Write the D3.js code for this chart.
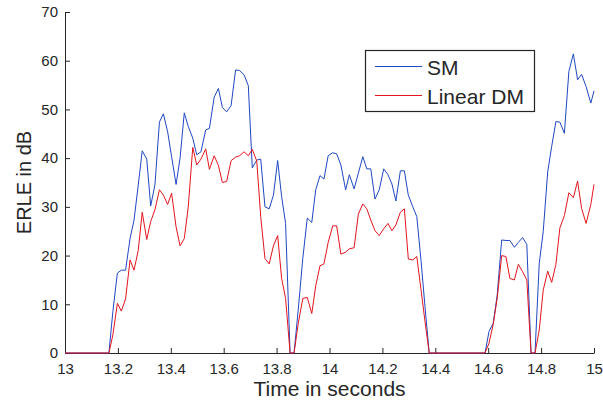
<!DOCTYPE html>
<html>
<head>
<meta charset="utf-8">
<script src="https://cdn.jsdelivr.net/npm/d3@7"></script>
<style>
  html, body { margin: 0; padding: 0; background: #ffffff; }
  svg { display: block; }
  text { font-family: "Liberation Sans", Arial, Helvetica, sans-serif; fill: #262626; }
</style>
</head>
<body>
<script>
const times = [13.000, 13.166, 13.181, 13.198, 13.213, 13.229, 13.246, 13.261, 13.277, 13.292,
  13.309, 13.324, 13.340, 13.357, 13.372, 13.388, 13.403, 13.420, 13.435, 13.451,
  13.466, 13.483, 13.498, 13.514, 13.532, 13.546, 13.564, 13.580, 13.595, 13.611,
  13.628, 13.645, 13.660, 13.677, 13.693, 13.708, 13.725, 13.740, 13.756, 13.772,
  13.788, 13.804, 13.819, 13.834, 13.851, 13.866, 13.882, 13.899, 13.916, 13.933,
  13.948, 13.964, 13.979, 13.995, 14.012, 14.027, 14.043, 14.061, 14.075, 14.093,
  14.109, 14.126, 14.141, 14.156, 14.172, 14.188, 14.205, 14.221, 14.236, 14.251,
  14.268, 14.283, 14.298, 14.315, 14.330, 14.346, 14.361, 14.377, 14.588, 14.603,
  14.619, 14.634, 14.651, 14.667, 14.682, 14.699, 14.714, 14.730, 14.746, 14.762,
  14.777, 14.793, 14.808, 14.825, 14.840, 14.856, 14.871, 14.888, 14.905, 14.922,
  14.938, 14.953, 14.970, 14.988, 15.000];

const smValues = [0, 0, 8.5, 16.4, 17.0, 17.0, 23.5, 27.3, 34.5, 41.5,
  39.8, 30.2, 34.5, 47.4, 49.1, 45.4, 40.3, 34.6, 40.0, 49.3,
  46.5, 44.1, 40.7, 41.3, 45.8, 46.1, 52.5, 54.3, 50.4, 49.5,
  50.8, 58.1, 58.0, 57.1, 54.9, 38.0, 39.6, 39.8, 30.0, 29.6,
  32.4, 39.5, 32.1, 26.6, 0, 0, 9.0, 19.4, 27.7, 26.8,
  33.5, 36.4, 35.7, 40.5, 41.1, 40.9, 38.6, 33.5, 36.6, 33.7,
  36.9, 40.3, 37.8, 37.8, 31.6, 33.5, 37.8, 36.6, 34.7, 31.2,
  37.4, 37.4, 32.4, 30.0, 28.0, 19.0, 9.5, 0, 0, 4.4,
  6.1, 11.9, 23.2, 23.1, 23.1, 21.7, 22.7, 23.7, 22.3, 0,
  0, 18.4, 24.9, 37.2, 42.4, 47.5, 47.4, 45.1, 57.8, 61.4,
  56.1, 57.2, 54.7, 51.3, 53.8];

const dmValues = [0, 0, 3.7, 10.2, 8.6, 11.1, 19.1, 17.0, 21.1, 28.9,
  23.3, 27.0, 29.4, 33.5, 32.4, 30.5, 32.8, 25.9, 22.0, 23.5,
  30.0, 42.2, 38.6, 39.8, 41.9, 37.7, 40.5, 38.5, 35.0, 35.2,
  39.5, 40.2, 40.5, 41.3, 40.5, 41.8, 39.4, 28.0, 19.4, 18.3,
  22.0, 24.1, 15.3, 11.2, 0, 0, 6.1, 11.2, 11.4, 8.1,
  13.8, 17.9, 18.3, 22.7, 26.1, 26.1, 20.3, 20.7, 21.4, 21.6,
  28.5, 30.6, 29.6, 27.3, 25.1, 24.1, 25.5, 26.6, 25.1, 26.3,
  28.9, 29.6, 19.3, 19.1, 19.8, 13.0, 6.5, 0, 0, 2.0,
  5.9, 11.2, 20.0, 19.8, 15.3, 15.0, 18.2, 16.7, 15.0, 0,
  0, 4.7, 12.9, 16.8, 14.5, 18.2, 25.7, 28.2, 32.9, 31.9,
  35.3, 29.7, 26.6, 30.5, 34.6];

const seriesNames = ["SM", "Linear DM"];
const xTicks = [13, 13.2, 13.4, 13.6, 13.8, 14, 14.2, 14.4, 14.6, 14.8, 15];
const yTicks = [0, 10, 20, 30, 40, 50, 60, 70];
const xLabel = "Time in seconds";
const yLabel = "ERLE in dB";

const W = 603, H = 401;
const margin = { left: 65, right: 9, top: 12, bottom: 48 };
const colors = ["#1f47c2", "#e3151d"];

const svg = d3.select("body").append("svg").attr("width", W).attr("height", H);

const x = d3.scaleLinear().domain([13, 15]).range([margin.left, W - margin.right]);
const y = d3.scaleLinear().domain([0, 70]).range([H - margin.bottom, margin.top]);

// axes
const xAxis = svg.append("g")
  .attr("transform", `translate(0,${H - margin.bottom})`)
  .call(d3.axisBottom(x).tickValues(xTicks).tickFormat(d => String(+d.toFixed(1)))
    .tickSizeInner(-5).tickSizeOuter(0).tickPadding(10));
const yAxis = svg.append("g")
  .attr("transform", `translate(${margin.left},0)`)
  .call(d3.axisLeft(y).tickValues(yTicks).tickFormat(d3.format("d"))
    .tickSizeInner(-5).tickSizeOuter(0).tickPadding(7));

[xAxis, yAxis].forEach(g => {
  g.select(".domain").attr("stroke", "#262626");
  g.selectAll(".tick line").attr("stroke", "#262626");
  g.selectAll(".tick text").attr("font-size", 15).attr("fill", "#262626")
    .style("font-family", "'Liberation Sans', Arial, sans-serif");
});

// lines
const data = times.map((t, i) => ({ t, sm: smValues[i], dm: dmValues[i] }));
const lineSM = d3.line().x(d => x(d.t)).y(d => y(d.sm));
const lineDM = d3.line().x(d => x(d.t)).y(d => y(d.dm));

svg.append("path").datum(data).attr("d", lineSM)
  .attr("fill", "none").attr("stroke", colors[0]).attr("stroke-width", 1)
  .attr("stroke-linejoin", "round");
svg.append("path").datum(data).attr("d", lineDM)
  .attr("fill", "none").attr("stroke", colors[1]).attr("stroke-width", 1)
  .attr("stroke-linejoin", "round");

// axis labels
svg.append("text")
  .attr("x", (x(13) + x(15)) / 2).attr("y", 396)
  .attr("text-anchor", "middle").attr("font-size", 21)
  .text(xLabel);
svg.append("text")
  .attr("transform", `translate(31,${(y(0) + y(70)) / 2}) rotate(-90)`)
  .attr("text-anchor", "middle").attr("font-size", 20)
  .text(yLabel);

// legend
const leg = svg.append("g");
leg.append("rect")
  .attr("x", 365.5).attr("y", 50.5).attr("width", 169).attr("height", 61)
  .attr("fill", "#ffffff").attr("stroke", "#262626").attr("stroke-width", 1.2);
seriesNames.forEach((name, i) => {
  const ly = 66.5 + i * 29;
  leg.append("line")
    .attr("x1", 375).attr("x2", 422).attr("y1", ly).attr("y2", ly)
    .attr("stroke", colors[i]).attr("stroke-width", 1);
  leg.append("text")
    .attr("x", 427).attr("y", ly + 8)
    .attr("font-size", 21)
    .text(name);
});
</script>
</body>
</html>
